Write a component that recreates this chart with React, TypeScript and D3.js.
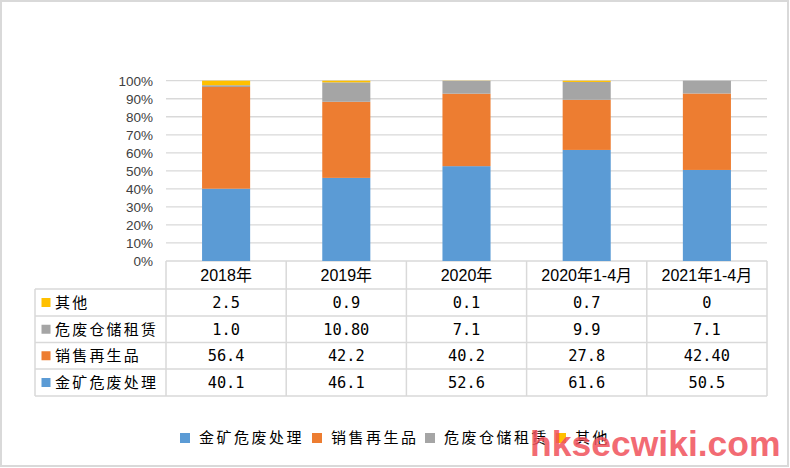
import React from "react";
import * as d3 from "d3";

const categories = ["2018年", "2019年", "2020年", "2020年1-4月", "2021年1-4月"];
const seriesNames = ["金矿危废处理", "销售再生品", "危废仓储租赁", "其他"];
const seriesColors = ["#5B9BD5", "#ED7D31", "#A5A5A5", "#FFC000"];
const goldWaste = [40.1, 46.1, 52.6, 61.6, 50.5];
const recycledSales = [56.4, 42.2, 40.2, 27.8, 42.4];
const storageLease = [1.0, 10.8, 7.1, 9.9, 7.1];
const others = [2.5, 0.9, 0.1, 0.7, 0];
const goldWasteLabels = ["40.1", "46.1", "52.6", "61.6", "50.5"];
const recycledSalesLabels = ["56.4", "42.2", "40.2", "27.8", "42.40"];
const storageLeaseLabels = ["1.0", "10.80", "7.1", "9.9", "7.1"];
const othersLabels = ["2.5", "0.9", "0.1", "0.7", "0"];
const yTicks = [0, 10, 20, 30, 40, 50, 60, 70, 80, 90, 100];

const W = 790;
const H = 468;
const plotLeft = 166;
const plotRight = 767;
const plotTop = 80.7;
const plotBottom = 261;
const rowEdges = [261, 289, 316, 342.5, 369, 396];
const tableLeft = 35;

const CJK = "'Noto Sans CJK SC', sans-serif";
const LAT = "'Liberation Sans', Arial, 'Noto Sans CJK SC', sans-serif";
const MONO = "'DejaVu Sans Mono', 'Liberation Mono', monospace";

export default function App() {
  const rows = categories.map((c, i) => ({
    cat: c,
    s0: goldWaste[i],
    s1: recycledSales[i],
    s2: storageLease[i],
    s3: others[i],
  }));
  const keys = ["s0", "s1", "s2", "s3"];
  const stacked = d3.stack<any>().keys(keys)(rows);

  const x = d3
    .scaleBand<string>()
    .domain(categories)
    .range([plotLeft, plotRight])
    .paddingInner(0.6)
    .paddingOuter(0.3);
  const step = x.step();
  const y = d3.scaleLinear().domain([0, 100]).range([plotBottom, plotTop]);

  const colEdges = categories.map((_, i) => plotLeft + i * step).concat([plotRight]);

  const tableRows = [
    { name: seriesNames[3], color: seriesColors[3], labels: othersLabels },
    { name: seriesNames[2], color: seriesColors[2], labels: storageLeaseLabels },
    { name: seriesNames[1], color: seriesColors[1], labels: recycledSalesLabels },
    { name: seriesNames[0], color: seriesColors[0], labels: goldWasteLabels },
  ];

  const gridColor = "#D9D9D9";
  const legendX = [180, 312, 425, 556];

  return (
    <svg
      width={W}
      height={H}
      style={{ position: "absolute", left: 0, top: 0, background: "#fff" }}
    >
      <rect x={1} y={1} width={787} height={465} fill="#fff" stroke="#D9D9D9" strokeWidth={2} />
      {/* gridlines */}
      {yTicks.map((t) => (
        <line
          key={"g" + t}
          x1={plotLeft}
          x2={plotRight}
          y1={y(t)}
          y2={y(t)}
          stroke={gridColor}
          strokeWidth={1.3}
        />
      ))}
      {yTicks.map((t) => (
        <text
          key={"yt" + t}
          x={153}
          y={y(t)}
          dy="0.36em"
          textAnchor="end"
          fontFamily={LAT}
          fontSize={13.5}
          fill="#404040"
        >
          {t + "%"}
        </text>
      ))}
      {/* bars */}
      {stacked.map((layer, si) => (
        <g key={"l" + si} fill={seriesColors[si]}>
          {layer.map((d, i) =>
            d[1] - d[0] > 0 ? (
              <rect
                key={i}
                x={x(categories[i])}
                width={x.bandwidth()}
                y={y(d[1])}
                height={y(d[0]) - y(d[1])}
              />
            ) : null
          )}
        </g>
      ))}
      {/* table lines */}
      {colEdges.map((cx, i) => (
        <line
          key={"cv" + i}
          x1={cx}
          x2={cx}
          y1={rowEdges[0]}
          y2={rowEdges[rowEdges.length - 1]}
          stroke={gridColor}
          strokeWidth={1.5}
        />
      ))}
      <line
        x1={tableLeft}
        x2={tableLeft}
        y1={rowEdges[1]}
        y2={rowEdges[rowEdges.length - 1]}
        stroke={gridColor}
        strokeWidth={1.5}
      />
      {rowEdges.slice(1).map((ry, i) => (
        <line
          key={"rh" + i}
          x1={tableLeft}
          x2={plotRight}
          y1={ry}
          y2={ry}
          stroke={gridColor}
          strokeWidth={1.5}
        />
      ))}
      {/* header */}
      {categories.map((c, i) => (
        <text
          key={"h" + i}
          x={plotLeft + (i + 0.5) * step}
          y={(rowEdges[0] + rowEdges[1]) / 2}
          dy="0.36em"
          textAnchor="middle"
          fontFamily={LAT}
          fontSize={16}
          fill="#000"
        >
          {c}
        </text>
      ))}
      {/* body rows */}
      {tableRows.map((r, ri) => {
        const cy = (rowEdges[ri + 1] + rowEdges[ri + 2]) / 2;
        return (
          <g key={"tr" + ri}>
            <rect x={41.5} y={cy - 4.5} width={9} height={9} fill={r.color} />
            <text
              x={55}
              y={cy}
              dy="0.36em"
              fontFamily={CJK}
              fontSize={15}
              letterSpacing={2.2}
              fill="#000"
            >
              {r.name}
            </text>
            {r.labels.map((v, ci) => (
              <text
                key={ci}
                x={plotLeft + (ci + 0.5) * step}
                y={cy}
                dy="0.36em"
                textAnchor="middle"
                fontFamily={MONO}
                fontSize={15.3}
                fill="#000"
              >
                {v}
              </text>
            ))}
          </g>
        );
      })}
      {/* legend */}
      {seriesNames.map((n, i) => (
        <g key={"lg" + i}>
          <rect x={legendX[i]} y={433} width={10} height={10} fill={seriesColors[i]} />
          <text
            x={legendX[i] + 19}
            y={438}
            dy="0.36em"
            fontFamily={CJK}
            fontSize={15}
            letterSpacing={2.5}
            fill="#000"
          >
            {n}
          </text>
        </g>
      ))}
      {/* watermark */}
      <text
        x={530}
        y={456}
        fontFamily="'Liberation Sans', Arial, sans-serif"
        fontWeight="bold"
        fontSize={35.5}
        fill="#F0505A"
        fillOpacity={0.85}
      >
        hksecwiki.com
      </text>
    </svg>
  );
}
